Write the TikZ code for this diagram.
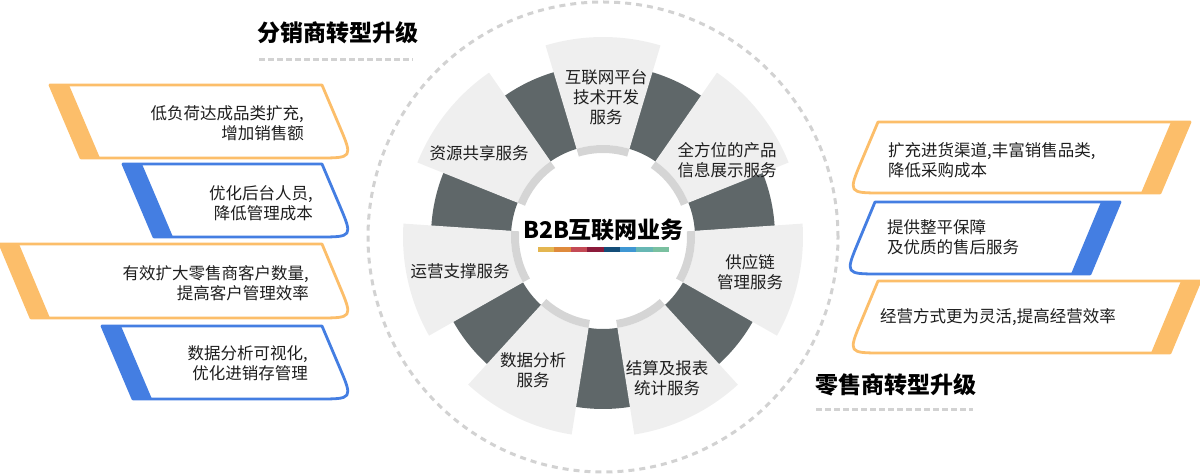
\documentclass[tikz,border=0pt]{standalone}
\usepackage{fontspec}
\setmainfont{Noto Sans CJK SC}
\definecolor{segLight}{HTML}{EFEFEF}
\definecolor{segDark}{HTML}{5F6769}
\definecolor{ringGray}{HTML}{D5D5D5}
\definecolor{dashGray}{HTML}{D2D2D2}
\definecolor{cardOrange}{HTML}{FCBE6A}
\definecolor{cardBlue}{HTML}{447EE2}
\definecolor{txt}{HTML}{1E1E1E}
\definecolor{cbA}{HTML}{E4B650}
\definecolor{cbB}{HTML}{DF8A3C}
\definecolor{cbC}{HTML}{C44A55}
\definecolor{cbD}{HTML}{8B1A3A}
\definecolor{cbE}{HTML}{144D78}
\definecolor{cbF}{HTML}{3F97D3}
\definecolor{cbG}{HTML}{67B7B4}
\definecolor{cbH}{HTML}{7AC0A0}
% left card: #1 top(img y), #2 bottom(img y), #3 left x of band, #4 colour
\newcommand{\leftcard}[4]{%
  \pgfmathsetmacro{\cardyT}{474-#1}%
  \pgfmathsetmacro{\cardyB}{474-#2}%
  \pgfmathsetmacro{\cardh}{#2-#1}%
  \pgfmathsetmacro{\cardlen}{sqrt(961+\cardh*\cardh)}%
  \pgfmathsetmacro{\cardpx}{322+31-31*35/\cardlen}%
  \pgfmathsetmacro{\cardpy}{\cardyB+\cardh*35/\cardlen}%
  \draw[cardline,draw=#4,fill=white] (#3,\cardyT) -- (322,\cardyT) -- (\cardpx,\cardpy)
     .. controls (353,\cardyB) .. (318,\cardyB) -- (#3+31,\cardyB) -- cycle;
  \fill[#4] (#3,\cardyT) -- (#3+19,\cardyT) -- (#3+50,\cardyB) -- (#3+31,\cardyB) -- cycle;
}
% right card: #1 top, #2 bottom, #3 left x (top), #4 right x of band (top), #5 colour
\newcommand{\rightcard}[5]{%
  \pgfmathsetmacro{\cardyT}{474-#1}%
  \pgfmathsetmacro{\cardyB}{474-#2}%
  \pgfmathsetmacro{\cardh}{#2-#1}%
  \pgfmathsetmacro{\cardlen}{sqrt(900+\cardh*\cardh)}%
  \pgfmathsetmacro{\cardpx}{#3-30+30*35/\cardlen}%
  \pgfmathsetmacro{\cardpy}{\cardyB+\cardh*35/\cardlen}%
  \pgfmathsetmacro{\cardcx}{#3-30}%
  \pgfmathsetmacro{\cardqx}{#3-30+35}%
  \draw[cardline,draw=#5,fill=white] (#4,\cardyT) -- (#3,\cardyT) -- (\cardpx,\cardpy)
     .. controls (\cardcx,\cardyB) .. (\cardqx,\cardyB) -- (#4-30,\cardyB) -- cycle;
  \fill[#5] (#4-19,\cardyT) -- (#4,\cardyT) -- (#4-30,\cardyB) -- (#4-49,\cardyB) -- cycle;
}
\begin{document}
\begin{tikzpicture}[x=1pt,y=1pt,
  cardline/.style={line width=2.8pt,line join=round},
  wheeltext/.style={font=\fontsize{16.5}{20}\selectfont,text=txt,align=center,inner sep=0pt},
  lcardtext/.style={font=\fontsize{16.5}{20}\selectfont,text=txt,align=right,inner sep=0pt,anchor=east},
  rcardtext/.style={font=\fontsize{16.5}{20}\selectfont,text=txt,align=left,inner sep=0pt,anchor=west},
  titletext/.style={font=\bfseries\fontsize{23}{27}\selectfont,text=black,inner sep=0pt},
  dashline/.style={draw=dashGray,line width=3pt,dash pattern=on 5.5pt off 3.5pt},
]
\useasboundingbox (0,0) rectangle (1200,474);

% outer dashed circle
\draw[dashGray,line width=3pt,dash pattern=on 6pt off 5pt] (603,237) circle[radius=235];

% dark segments
\foreach \c in {64.29,12.86,-38.57,-90,-141.43,167.14,115.71}{
  \pgfmathsetmacro{\aS}{\c-9.2}
  \pgfmathsetmacro{\aE}{\c+9.2}
  \fill[segDark,shift={(603,237)}] (\aS:92) -- (\aS:172) arc[start angle=\aS,end angle=\aE,radius=172]
     -- (\aE:92) arc[start angle=\aE,end angle=\aS,radius=92] -- cycle;
}
% light segments and inner grey arcs
\foreach \c in {90,38.57,-12.86,-64.29,-115.71,-167.14,141.43}{
  \pgfmathsetmacro{\aS}{\c-16.7}
  \pgfmathsetmacro{\aE}{\c+16.7}
  \fill[segLight,shift={(603,237)}] (\aS:92) -- (\aS:200) arc[start angle=\aS,end angle=\aE,radius=200]
     -- (\aE:92) arc[start angle=\aE,end angle=\aS,radius=92] -- cycle;
  \draw[ringGray,line width=8pt,shift={(603,237)}] (\aS:88) arc[start angle=\aS,end angle=\aE,radius=88];
}

% wheel labels
\node[wheeltext] (segTop) at (606,377) {互联网平台\\技术开发\\服务};
\node[wheeltext] (segUR) at (727,314) {全方位的产品\\信息展示服务};
\node[wheeltext] (segR) at (750,202) {供应链\\管理服务};
\node[wheeltext] (segLR) at (667,96) {结算及报表\\统计服务};
\node[wheeltext] (segLL) at (533,104) {数据分析\\服务};
\node[wheeltext] (segL) at (460,203) {运营支撑服务};
\node[wheeltext] (segUL) at (479,321) {资源共享服务};

% centre title and colour bar
\node[titletext] (center) at (603.5,244) {B2B互联网业务};
\foreach \col [count=\i from 0] in {cbA,cbB,cbC,cbD,cbE,cbF,cbG,cbH}{
  \fill[\col] (538+\i*16.4,221.5) rectangle ++(16.4,5);
}

% section titles
\node[titletext] (leftTitle) at (338,441) {分销商转型升级};
\draw[dashline] (259,414) -- (413,414);
\node[titletext] (rightTitle) at (895.5,89) {零售商转型升级};
\draw[dashline] (816,64) -- (973,64);

% left cards
\leftcard{85}{158}{50}{cardOrange}
\leftcard{164}{237}{123}{cardBlue}
\leftcard{244}{318}{0}{cardOrange}
\leftcard{326}{399}{102}{cardBlue}
\node[lcardtext] (lc1) at (304,351) {低负荷达成品类扩充,\\增加销售额};
\node[lcardtext] (lc2) at (313,270.5) {优化后台人员,\\降低管理成本};
\node[lcardtext] (lc3) at (309,191) {有效扩大零售商客户数量,\\提高客户管理效率};
\node[lcardtext] (lc4) at (308,110.5) {数据分析可视化,\\优化进销存管理};

% right cards
\rightcard{122}{193}{878}{1190}{cardOrange}
\rightcard{202}{274}{875}{1120}{cardBlue}
\rightcard{281}{353}{878}{1200}{cardOrange}
\node[rcardtext] (rc1) at (888,314) {扩充进货渠道,丰富销售品类,\\降低采购成本};
\node[rcardtext] (rc2) at (887,237) {提供整平保障\\及优质的售后服务};
\node[rcardtext] (rc3) at (880,157) {经营方式更为灵活,提高经营效率};
\end{tikzpicture}
\end{document}
